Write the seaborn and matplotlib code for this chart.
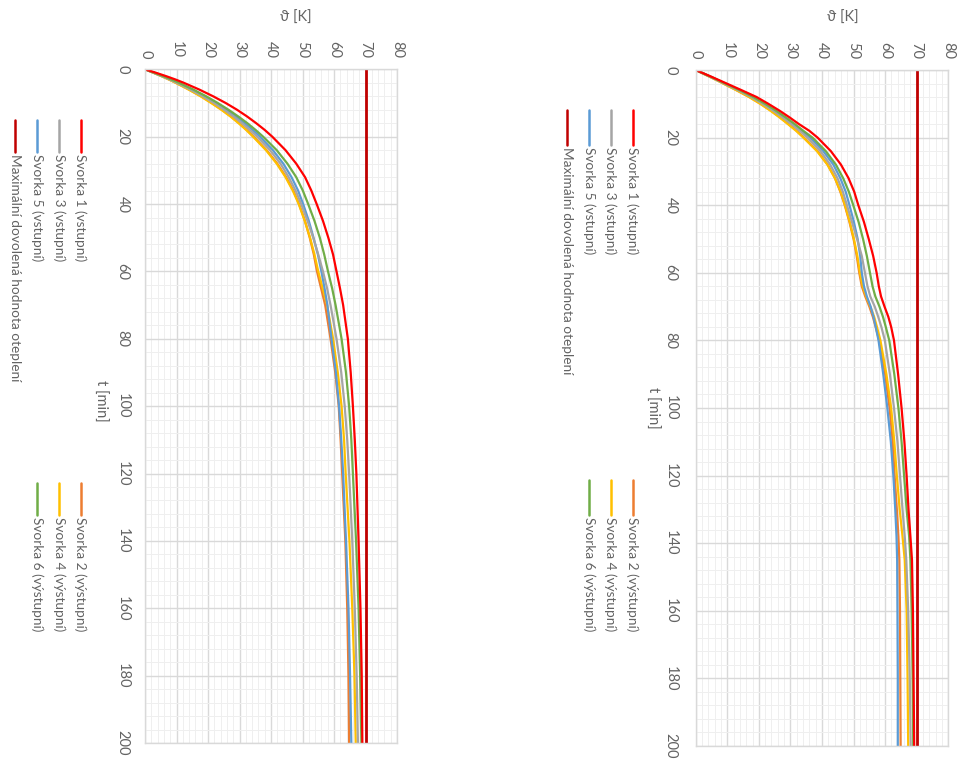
import pandas as pd
import matplotlib
matplotlib.use("Agg")
import matplotlib.pyplot as plt
from matplotlib.lines import Line2D
from matplotlib.ticker import MultipleLocator
import seaborn as sns

# --- data (theta [K] at time t [min]) ---
t_left = [0, 1, 2, 3, 4, 6, 8, 10, 12, 14, 16, 18, 20, 24, 28, 32, 36, 40, 45, 50,
          55, 60, 65, 70, 80, 90, 100, 110, 120, 140, 160, 180, 200]
svorka1_left = [0, 3.4, 6.6, 9.6, 12.3, 17.2, 21.6, 25.6, 29.2, 32.4, 35.3, 38.0, 40.4, 44.6, 48.0, 50.8, 52.8, 54.5, 56.5, 58.2,
                59.7, 60.8, 61.9, 62.9, 64.4, 65.3, 66.0, 66.6, 67.1, 67.8, 68.4, 68.8, 69.0]
svorka2_left = [0, 2.6, 5.2, 7.6, 9.8, 14.0, 17.8, 21.2, 24.4, 27.3, 29.9, 32.3, 34.5, 38.6, 42.0, 44.8, 47.1, 48.9, 50.8, 52.3,
                53.6, 54.6, 55.9, 57.2, 58.9, 60.4, 61.5, 62.1, 62.6, 63.6, 64.2, 64.6, 64.8]
svorka3_left = [0, 2.7, 5.3, 7.8, 10.1, 14.4, 18.3, 21.9, 25.1, 28.1, 30.8, 33.3, 35.6, 39.7, 43.0, 45.6, 47.8, 49.6, 51.6, 53.4,
                55.0, 56.5, 57.8, 58.9, 60.8, 62.3, 63.4, 64.2, 64.8, 65.8, 66.6, 67.2, 67.6]
svorka4_left = [0, 2.6, 5.1, 7.5, 9.7, 13.8, 17.6, 21.0, 24.2, 27.1, 29.7, 32.1, 34.3, 38.4, 41.8, 44.6, 46.9, 48.8, 50.7, 52.4,
                53.8, 55.0, 56.4, 57.8, 59.7, 61.2, 62.4, 63.2, 63.7, 64.9, 65.8, 66.5, 66.9]
svorka5_left = [0, 2.8, 5.5, 8.1, 10.5, 14.9, 18.9, 22.5, 25.8, 28.8, 31.6, 34.2, 36.5, 40.6, 43.9, 46.5, 48.6, 50.2, 52.0, 53.5,
                54.9, 56.0, 57.0, 57.9, 59.2, 60.6, 61.6, 62.3, 62.9, 63.8, 64.6, 65.1, 65.5]
svorka6_left = [0, 2.9, 5.7, 8.3, 10.8, 15.3, 19.4, 23.1, 26.5, 29.6, 32.5, 35.1, 37.5, 41.8, 45.2, 48.0, 50.1, 51.8, 53.8, 55.5,
                56.9, 58.1, 59.4, 60.5, 62.4, 63.8, 64.8, 65.5, 66.0, 67.0, 67.8, 68.3, 68.7]

t_right = [0, 1, 2, 3, 4, 6, 8, 10, 12, 14, 16, 18, 20, 24, 28, 32, 36, 40, 45, 50,
           55, 60, 64, 67, 70, 73, 76, 80, 90, 100, 110, 120, 130, 138, 145, 160, 180, 200]
svorka1_right = [0, 2.5, 5.0, 7.4, 9.8, 14.6, 19.3, 23.0, 26.5, 29.7, 32.7, 36.0, 38.6, 42.8, 46.0, 48.4, 50.2, 51.5, 53.3, 54.8,
                 56.2, 57.3, 58.0, 58.7, 59.8, 61.0, 61.9, 62.8, 64.1, 65.2, 66.1, 66.8, 67.4, 68.0, 68.5, 68.8, 69.0, 69.2]
svorka2_right = [0, 2.2, 4.5, 6.7, 8.8, 13.0, 17.0, 20.6, 23.8, 26.7, 29.4, 32.0, 34.3, 38.6, 41.8, 44.1, 45.8, 47.2, 48.7, 50.0,
                 51.0, 51.8, 52.6, 53.7, 55.0, 56.1, 57.0, 58.1, 60.0, 61.4, 62.4, 63.0, 63.7, 64.2, 64.5, 64.7, 64.8, 64.9]
svorka3_right = [0, 2.3, 4.6, 6.9, 9.1, 13.5, 17.6, 21.2, 24.5, 27.5, 30.3, 33.0, 35.4, 39.5, 42.6, 44.9, 46.6, 47.9, 49.5, 51.1,
                 52.6, 53.6, 54.4, 55.3, 56.7, 57.8, 58.8, 59.9, 61.5, 62.8, 63.9, 64.7, 65.5, 66.2, 66.7, 67.3, 67.8, 68.1]
svorka4_right = [0, 2.2, 4.4, 6.6, 8.7, 12.9, 16.9, 20.4, 23.6, 26.5, 29.2, 31.8, 34.1, 38.4, 41.7, 44.1, 45.9, 47.3, 48.8, 50.1,
                 51.2, 52.0, 52.9, 54.0, 55.3, 56.5, 57.4, 58.5, 60.4, 61.9, 62.9, 63.7, 64.6, 65.5, 66.2, 66.8, 67.1, 67.3]
svorka5_right = [0, 2.4, 4.7, 7.0, 9.2, 13.7, 17.9, 21.6, 25.0, 28.1, 31.0, 33.7, 36.2, 40.4, 43.6, 45.8, 47.5, 48.7, 50.1, 51.3,
                 52.1, 52.6, 53.3, 54.2, 55.4, 56.3, 57.0, 57.9, 59.4, 60.7, 61.8, 62.6, 63.2, 63.6, 63.8, 63.9, 64.0, 64.0]
svorka6_right = [0, 2.4, 4.8, 7.1, 9.4, 14.0, 18.3, 22.0, 25.4, 28.5, 31.4, 34.1, 37.0, 41.2, 44.4, 46.7, 48.5, 49.9, 51.6, 53.0,
                 54.2, 55.2, 56.0, 56.9, 58.2, 59.3, 60.2, 61.3, 62.9, 64.2, 65.2, 66.0, 66.8, 67.6, 68.0, 68.4, 68.7, 68.9]

t_limit = [0, 200]
limit_value = [70, 70]

series_names = ["Svorka 1 (vstupní)", "Svorka 2 (výstupní)", "Svorka 3 (vstupní)",
                "Svorka 4 (výstupní)", "Svorka 5 (vstupní)", "Svorka 6 (výstupní)",
                "Maximální dovolená hodnota oteplení"]
colors = ["#FF0000", "#ED7D31", "#A5A5A5", "#FFC000", "#5B9BD5", "#70AD47", "#C00000"]
theta_ticks = list(range(0, 81, 10))
t_ticks = list(range(0, 201, 20))


def long_table(t, curves):
    rows = []
    for name, vals in zip(series_names[:6], curves):
        rows += [(name, tt, v) for tt, v in zip(t, vals)]
    rows += [(series_names[6], tt, v) for tt, v in zip(t_limit, limit_value)]
    return pd.DataFrame(rows, columns=["series", "t", "theta"])


df_left = long_table(t_left, [svorka1_left, svorka2_left, svorka3_left,
                              svorka4_left, svorka5_left, svorka6_left])
df_right = long_table(t_right, [svorka1_right, svorka2_right, svorka3_right,
                                svorka4_right, svorka5_right, svorka6_right])

sns.set_theme(style="white")
plt.rcParams["font.family"] = ["Lato", "DejaVu Sans"]
GREY = "#636363"
W, H = 959, 765
fig = plt.figure(figsize=(W / 100, H / 100), dpi=100)


def px(x, y):
    return x / W, 1 - y / H


def draw_panel(df, left, top, right, bottom, ypad):
    x0, y1 = px(left, top)
    x1, y0 = px(right, bottom)
    ax = fig.add_axes([x0, y0, x1 - x0, y1 - y0])
    palette = dict(zip(series_names, colors))
    # orange, yellow, blue, grey, green, red - red ends up on top
    for i in [1, 3, 4, 2, 5, 0]:
        sub = df[df.series == series_names[i]]
        sns.lineplot(data=sub, x="theta", y="t", orient="y", sort=False, estimator=None,
                     color=palette[series_names[i]], lw=1.6, ax=ax, legend=False)
    sub = df[df.series == series_names[6]]
    sns.lineplot(data=sub, x="theta", y="t", orient="y", sort=False, estimator=None,
                 color=colors[6], lw=2.0, ax=ax, legend=False)
    ax.set_xlim(0, 80)
    ax.set_ylim(200, 0)
    ax.xaxis.tick_top()
    ax.set_xticks(theta_ticks)
    ax.set_yticks(t_ticks)
    ax.xaxis.set_minor_locator(MultipleLocator(2))
    ax.yaxis.set_minor_locator(MultipleLocator(4))
    ax.grid(which="major", color="#D9D9D9", lw=1.0)
    ax.grid(which="minor", color="#EFEFEF", lw=0.7)
    ax.set_axisbelow(True)
    ax.tick_params(which="both", length=0, labelsize=10.5, labelcolor=GREY)
    ax.tick_params(axis="x", pad=8)
    ax.tick_params(axis="y", pad=ypad)
    for lab in ax.get_xticklabels():
        lab.set_rotation(-90)
        lab.set_va("bottom")
        lab.set_ha("center")
    for lab in ax.get_yticklabels():
        lab.set_rotation(-90)
        lab.set_va("center")
        lab.set_ha("right")
    for s in ax.spines.values():
        s.set_color("#D9D9D9")
        s.set_linewidth(1.0)
    ax.set_xlabel("")
    ax.set_ylabel("")
    return ax


draw_panel(df_left, 145, 69.3, 397, 743, 11)
draw_panel(df_right, 695.7, 70, 948.3, 746, 13)

# axis titles
for cx, cy in [(296, 18), (843, 18)]:
    fig.text(*px(cx, cy), "ϑ [K]", ha="center", va="center", fontsize=10.5, color=GREY)
for cx, cy in [(100, 401), (652, 408)]:
    fig.text(*px(cx, cy), "t [min]", ha="center", va="center", rotation=-90,
             fontsize=10.5, color=GREY)


# legends are rotated with the chart, so build them by hand
def legend_entry(x, y_start, y_end, idx):
    xa, ya = px(x, y_start)
    _, yb = px(x, y_end)
    fig.add_artist(Line2D([xa, xa], [ya, yb], color=colors[idx], lw=1.8,
                          transform=fig.transFigure))
    fig.text(xa, yb - 2 / H, series_names[idx], rotation=-90, ha="center", va="top",
             fontsize=9.8, color=GREY)


for xs, (a1, b1), (a2, b2) in [
    ([80.7, 59.3, 37, 15], (120, 152), (483, 515)),
    ([632.7, 610.7, 589, 567], (110, 145), (480, 515)),
]:
    for x, idx in zip(xs, [0, 2, 4, 6]):
        legend_entry(x, a1, b1, idx)
    for x, idx in zip(xs[:3], [1, 3, 5]):
        legend_entry(x, a2, b2, idx)

fig.savefig("out.png", dpi=100)
